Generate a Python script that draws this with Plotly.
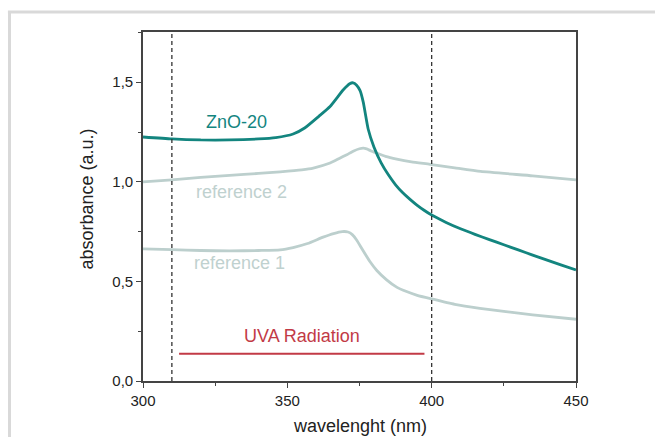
import plotly.graph_objects as go

# ---- data ----
wl_zno = [300, 310, 320, 330, 340, 346, 352, 356, 361, 364.8, 369.4, 371.6, 372.8, 374,
          375.2, 376.3, 378, 380, 382.5, 385, 387.5, 390, 392.5, 395, 397.5, 400, 405, 410,
          415, 420, 425, 430, 435, 440, 445, 450]
abs_zno = [1.225, 1.215, 1.21, 1.21, 1.215, 1.222, 1.24, 1.27, 1.33, 1.378, 1.462, 1.492,
           1.497, 1.485, 1.458, 1.40, 1.265, 1.175, 1.095, 1.035, 0.985, 0.945, 0.912, 0.882,
           0.856, 0.833, 0.796, 0.764, 0.736, 0.710, 0.684, 0.658, 0.632, 0.607, 0.582, 0.558]

wl_ref2 = [300, 310, 320, 330, 340, 347.5, 355, 359, 364.8, 368, 370.6, 373, 375, 376.3,
           377.5, 379, 381, 384, 387.9, 393, 399.4, 408, 417, 435, 450]
abs_ref2 = [1.0, 1.01, 1.022, 1.032, 1.042, 1.05, 1.06, 1.069, 1.094, 1.117, 1.136, 1.155,
            1.166, 1.169, 1.165, 1.155, 1.144, 1.128, 1.114, 1.10, 1.088, 1.07, 1.052,
            1.03, 1.01]

wl_ref1 = [300, 310, 320, 330, 340, 347.5, 352, 357, 362.4, 366, 369, 371, 372.5, 374,
           376, 378.6, 381, 384.4, 388, 391.3, 395, 400, 408, 416.7, 425, 435, 450]
abs_ref1 = [0.663, 0.66, 0.655, 0.653, 0.655, 0.658, 0.67, 0.69, 0.722, 0.74, 0.75, 0.748,
            0.735, 0.708, 0.66, 0.60, 0.555, 0.508, 0.47, 0.449, 0.43, 0.412, 0.385, 0.365,
            0.35, 0.332, 0.31]

uva_bounds = [310, 400]          # dashed vertical limits
uva_bar_x = [312.5, 397.5]       # red UVA bar extent
uva_bar_y = [0.137, 0.137]

labels = ["ZnO-20", "reference 2", "reference 1", "UVA Radiation"]
label_x = [332.4, 334.0, 333.5, 355.0]
label_y = [1.30, 0.95, 0.59, 0.228]

TEAL = "#13857f"
GREY = "#bccfcd"
RED = "#c23a46"
label_colors = [TEAL, "#bfd1cf", "#bfd1cf", RED]

fig = go.Figure()
fig.add_trace(go.Scatter(x=wl_ref2, y=abs_ref2, mode="lines", line=dict(color=GREY, width=2.8, shape="spline", smoothing=0.5)))
fig.add_trace(go.Scatter(x=wl_ref1, y=abs_ref1, mode="lines", line=dict(color=GREY, width=2.8, shape="spline", smoothing=0.5)))
fig.add_trace(go.Scatter(x=wl_zno, y=abs_zno, mode="lines", line=dict(color=TEAL, width=2.8, shape="spline", smoothing=0.5)))
fig.add_trace(go.Scatter(x=uva_bar_x, y=uva_bar_y, mode="lines", line=dict(color=RED, width=2)))

for xv in uva_bounds:
    fig.add_vline(x=xv, line=dict(color="#333333", width=1.3, dash="4px,3px"))

for t, x, y, c in zip(labels, label_x, label_y, label_colors):
    fig.add_annotation(x=x, y=y, text=t, showarrow=False, font=dict(size=18, color=c),
                       xanchor="center", yanchor="middle")

# axis titles as annotations
fig.add_annotation(x=-0.13, y=0.522, xref="paper", yref="paper", text="absorbance (a.u.)",
                   textangle=-90, showarrow=False, font=dict(size=18, color="#222"),
                   xanchor="center", yanchor="middle")
fig.add_annotation(x=0.50, y=-0.128, xref="paper", yref="paper", text="wavelenght (nm)",
                   showarrow=False, font=dict(size=18, color="#222"),
                   xanchor="center", yanchor="middle")

# light card border (top and left)
fig.add_shape(type="line", xref="paper", yref="paper", x0=-0.312, x1=1.19, y0=1.0573, y1=1.0573,
              line=dict(color="#d9d9d9", width=3))
fig.add_shape(type="line", xref="paper", yref="paper", x0=-0.3083, x1=-0.3083, y0=-0.2, y1=1.0573,
              line=dict(color="#d9d9d9", width=3))

axis_common = dict(showgrid=False, zeroline=False, showline=True, linecolor="#444444",
                   linewidth=1.6, mirror=True, ticks="outside", ticklen=5, tickwidth=1.3,
                   tickcolor="#444444", tickfont=dict(size=15, color="#222"))

fig.update_xaxes(range=[300, 450], dtick=50, tick0=300,
                 minor=dict(dtick=25, ticks="outside", ticklen=3, tickcolor="#444444", tickwidth=1.2),
                 **axis_common)
fig.update_yaxes(range=[0, 1.752], dtick=0.5, tick0=0, tickformat=".1f",
                 minor=dict(dtick=0.25, ticks="outside", ticklen=3, tickcolor="#444444", tickwidth=1.2),
                 **axis_common)

fig.update_layout(width=655, height=437, margin=dict(l=143, r=79, t=32, b=56),
                  paper_bgcolor="white", plot_bgcolor="white", showlegend=False,
                  separators=",.", font=dict(family="Liberation Sans, Arial, sans-serif"))

fig.write_html("out.html")
